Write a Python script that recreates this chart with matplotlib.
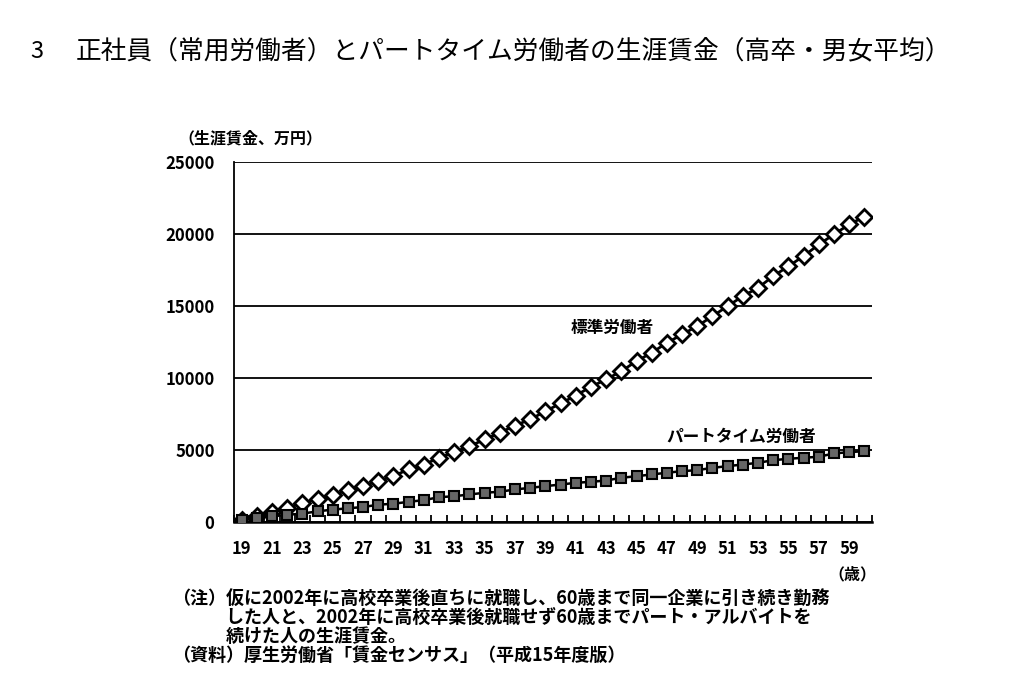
import matplotlib
matplotlib.use("Agg")
import matplotlib.pyplot as plt
from matplotlib.ticker import FixedLocator

plt.rcParams['font.family'] = ['Noto Sans CJK JP', 'DejaVu Sans']

# 年齢（19〜60歳）
ages = list(range(19, 61))
# 標準労働者の生涯賃金（万円、累計）
standard = [150, 420, 720, 1000, 1300, 1600, 1860, 2220, 2500, 2850,
            3200, 3650, 3990, 4450, 4850, 5260, 5730, 6190, 6700, 7120,
            7690, 8230, 8780, 9390, 9900, 10470, 11170, 11750, 12440, 13020,
            13600, 14290, 14990, 15680, 16260, 17070, 17760, 18460, 19270, 19970,
            20660, 21200]
# パートタイム労働者の生涯賃金（万円、累計）
parttime = [120, 280, 400, 500, 580, 740, 860, 950, 1040, 1200,
            1270, 1400, 1520, 1720, 1790, 1910, 2030, 2100, 2260, 2370,
            2490, 2600, 2720, 2790, 2880, 3070, 3180, 3300, 3420, 3530,
            3600, 3760, 3880, 3990, 4110, 4290, 4390, 4460, 4530, 4760,
            4850, 4920]
yticks = [0, 5000, 10000, 15000, 20000, 25000]
xlabels = list(range(19, 60, 2))

fig = plt.figure(figsize=(10.24, 7), dpi=100)
ax = fig.add_axes([0.2285, 0.2543, 0.623, 0.5143])

ax.plot(ages, standard, color='black', lw=2, marker='D', ms=8,
        mfc='white', mec='black', mew=2, zorder=3)
ax.plot(ages, parttime, color='black', lw=1.8, marker='s', ms=6.5,
        mfc='#666666', mec='black', mew=1.5, zorder=3)

ax.set_xlim(18.5, 60.5)
ax.set_ylim(0, 25000)
ax.set_yticks(yticks)
ax.set_yticklabels([str(v) for v in yticks])
ax.yaxis.grid(True, color='black', lw=1.3)
ax.set_axisbelow(True)
ax.tick_params(axis='y', length=0, pad=14, labelsize=12)
for lab in ax.get_yticklabels():
    lab.set_fontweight('bold')

ax.set_xticks(xlabels)
ax.set_xticklabels([str(v) for v in xlabels])
ax.xaxis.set_minor_locator(FixedLocator([a + 0.5 for a in range(18, 61)]))
ax.tick_params(axis='x', which='major', length=0, pad=13, labelsize=12)
ax.tick_params(axis='x', which='minor', length=5, width=1.3, direction='in')
for lab in ax.get_xticklabels():
    lab.set_fontweight('bold')

for s in ['top', 'right']:
    ax.spines[s].set_visible(False)
ax.spines['left'].set_linewidth(1.3)
ax.spines['bottom'].set_linewidth(1.8)

ax.text(43.4, 13500, '標準労働者', ha='center', va='center',
        fontsize=12, fontweight='bold')
ax.text(51.9, 5900, 'パートタイム労働者', ha='center', va='center',
        fontsize=12, fontweight='bold')

fig.text(178 / 1024, 1 - 138 / 700, '（生涯賃金、万円）', ha='left', va='center',
         fontsize=11.5, fontweight='bold')
fig.text(876 / 1024, 1 - 574 / 700, '（歳）', ha='right', va='center',
         fontsize=11.5, fontweight='bold')

fig.text(30 / 1024, 1 - 52 / 700, '3', ha='left', va='center', fontsize=17)
fig.text(76 / 1024, 1 - 52 / 700,
         '正社員（常用労働者）とパートタイム労働者の生涯賃金（高卒・男女平均）',
         ha='left', va='center', fontsize=18.5)

notes = ['（注）仮に2002年に高校卒業後直ちに就職し、60歳まで同一企業に引き続き勤務',
         '　　　した人と、2002年に高校卒業後就職せず60歳までパート・アルバイトを',
         '　　　続けた人の生涯賃金。',
         '（資料）厚生労働省「賃金センサス」（平成15年度版）']
for i, line in enumerate(notes):
    fig.text(172 / 1024, 1 - (598 + 19 * i) / 700, line, ha='left', va='center',
             fontsize=13, fontweight='bold')

fig.savefig('out.png', dpi=100)
